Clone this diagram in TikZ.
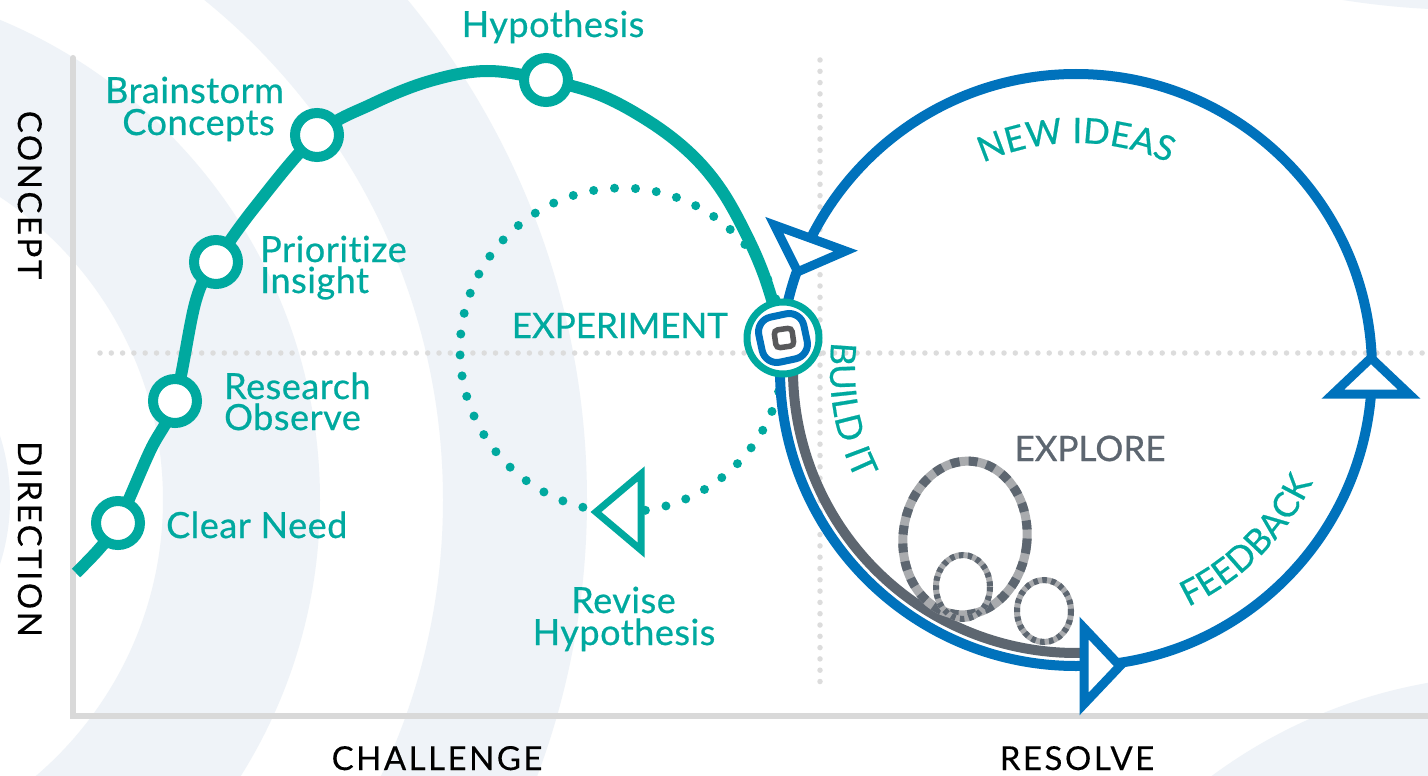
\documentclass[tikz,border=0pt]{standalone}
\usepackage{fontspec}
\setmainfont{Lato}
\newfontfamily\lblfam{Lato}[FakeBold=0.6, LetterSpace=1.5, Ligatures=NoCommon]
\newfontfamily\capfam{Lato}[FakeBold=0.6]
\newfontfamily\axfam{Lato}[FakeBold=0.3, LetterSpace=7.5]
\usetikzlibrary{decorations.text,calc}
\definecolor{tealc}{HTML}{00A99F}
\definecolor{bluec}{HTML}{0072BC}
\definecolor{gdark}{HTML}{5D6670}
\definecolor{glight}{HTML}{A9ABAE}
\definecolor{bandc}{HTML}{EFF3F8}
\definecolor{axisc}{HTML}{D9D9D9}
\definecolor{dotc}{HTML}{DCDCDC}
\definecolor{sqc}{HTML}{58595B}
\newcommand{\lblfont}{\lblfam\fontsize{36}{32}\selectfont}
\newcommand{\capfont}{\capfam\fontsize{35}{32}\selectfont}
\newcommand{\axfont}{\axfam\fontsize{33}{31}\selectfont}
\begin{document}
\begin{tikzpicture}[x=1pt,y=-1pt,
  stepnode/.style={circle, draw=tealc, line width=10pt, fill=white, minimum size=44pt, inner sep=0pt},
  lbl/.style={text=tealc, font=\lblfont, inner sep=0pt},
  caplbl/.style={text=tealc, font=\capfont, inner sep=0pt},
  axl/.style={text=black, font=\axfont, inner sep=0pt},
  bluetri/.style={draw=bluec, line width=9pt, fill=white, line join=miter},
  tealtri/.style={draw=tealc, line width=7pt, fill=white, line join=miter},
  griddots/.style={dotc, line width=5.5pt, line cap=round, dash pattern=on 0pt off 11.3pt},
  loopbase/.style={glight},
  loopdash/.style={gdark}
]
\useasboundingbox (0,0) rectangle (1428,776);
% background
\fill[white] (0,0) rectangle (1428,776);
\begin{scope}
\clip (0,0) rectangle (1428,776);
\fill[bandc, even odd rule] (-200,500) circle[radius=787] (-200,500) circle[radius=643];
\fill[bandc, even odd rule] (-200,500) circle[radius=520] (-200,500) circle[radius=363];
\fill[bandc] (-200,500) circle[radius=210];
\fill[bandc] (1518,1190) circle[radius=515];
\fill[bandc] (1470,-796) circle[radius=806];
\end{scope}
% grid
\draw[griddots] (100,353) -- (1428,353);
\draw[griddots] (820,60) -- (820,692);
% axes
\draw[axisc, line width=6pt, line join=miter] (73,58) -- (73,716) -- (1430,716);
\fill[axisc] (73,58) circle[radius=3];
% key points
\coordinate (pcn) at (118,523);
\coordinate (pro) at (175,401);
\coordinate (ppi) at (216,262);
\coordinate (pbc) at (317,135);
\coordinate (phy) at (546,80);
\coordinate (pex) at (783,338);
\coordinate (bc) at (1076,370);
% dotted experiment loop
\draw[tealc, line width=9pt, line cap=round, dash pattern=on 0pt off 21pt] (622,350) circle[radius=162];
% teal main curve
\draw[tealc, line width=12pt] plot[smooth, tension=0.6] coordinates {(76,573) (100,548) (pcn) (150,451) (pro) (196,300) (ppi) (255,207) (pbc) (372,104) (430,81) (487,71) (phy) (600,95) (650,122) (690,153) (720,188) (745,232) (765,278) (pex)};
% blue loop
\draw[bluec, line width=10pt] (bc) circle[radius=296];
% build-it grey line
\draw[gdark, line width=10pt] (bc) ++(186:283) arc[start angle=186, end angle=88.6, radius=283];
% explore loops
\draw[loopbase, line width=9pt, rotate around={-6:(965,538)}] (965,538) ellipse[x radius=62, y radius=77];
\draw[loopdash, line width=9pt, dash pattern=on 9pt off 9pt, rotate around={-6:(965,538)}] (965,538) ellipse[x radius=62, y radius=77];
\draw[loopbase, line width=6pt] (963,587) ellipse[x radius=27, y radius=32];
\draw[loopdash, line width=6pt, dash pattern=on 4.5pt off 4.5pt] (963,587) ellipse[x radius=27, y radius=32];
\draw[loopbase, line width=6pt] (1044,611) ellipse[x radius=27, y radius=31];
\draw[loopdash, line width=6pt, dash pattern=on 4.5pt off 4.5pt] (1044,611) ellipse[x radius=27, y radius=31];
% arrow triangles
\draw[bluetri] (774.3,225.0) -- (845.7,251.0) -- (797.7,271.8) -- cycle;
\draw[bluetri] (1333,394) -- (1409,394) -- (1371,358) -- cycle;
\draw[bluetri] (1084,628) -- (1084,704) -- (1120,666) -- cycle;
\draw[tealtri] (641,474) -- (641,550) -- (596,512) -- cycle;
% step nodes
\node[stepnode] (cn) at (pcn) {};
\node[stepnode] (ro) at (pro) {};
\node[stepnode] (pi) at (ppi) {};
\node[stepnode] (bcn) at (pbc) {};
\node[stepnode] (hy) at (phy) {};
\node[circle, draw=tealc, line width=7pt, fill=white, minimum size=72pt, inner sep=0pt] (ex) at (pex) {};
\node[rectangle, rounded corners=15pt, minimum size=46pt, inner sep=0pt, draw=bluec, line width=7pt, rotate=12] (exb) at (pex) {};
\node[rectangle, rounded corners=4pt, minimum size=18pt, inner sep=0pt, draw=sqc, line width=5.5pt, rotate=8] (exg) at (784,338) {};
% labels
\node[lbl, anchor=base] (tHy) at (553,37) {Hypothesis};
\node[lbl, anchor=base] (tBC1) at (194.5,103) {Brainstorm};
\node[lbl, anchor=base] (tBC2) at (198.5,135) {Concepts};
\node[lbl, anchor=base west] (tPI1) at (260,262) {Prioritize};
\node[lbl, anchor=base west] (tPI2) at (260,293) {Insight};
\node[lbl, anchor=base west] (tRO1) at (224,399) {Research};
\node[lbl, anchor=base west] (tRO2) at (224,430) {Observe};
\node[lbl, anchor=base west] (tCN) at (166,538) {Clear Need};
\node[caplbl, anchor=base east] (tEX) at (728,338) {EXPERIMENT};
\node[lbl, anchor=base] (tRH1) at (623.5,613) {Revise};
\node[lbl, anchor=base] (tRH2) at (624,645) {Hypothesis};
\node[caplbl, anchor=base, text=gdark] (tEP) at (1090,461) {EXPLORE};
\node[axl, anchor=base] (tCH) at (437,770) {CHALLENGE};
\node[axl, anchor=base] (tRS) at (1077,770) {RESOLVE};
\node[axl, anchor=base, rotate=-90] (tCO) at (18,195) {CONCEPT};
\node[axl, anchor=base, rotate=-90] (tDI) at (18,539) {DIRECTION};
% curved labels
\path[decorate, decoration={text along path, text align=center, text color=tealc,
  text={|\capfont|NEW IDEAS}}] (bc) ++(235:227) arc[start angle=235, end angle=305, radius=227];
\path[decorate, decoration={text along path, text align=center, text color=tealc,
  text={|\capfont|BUILD IT}}] (bc) ++(200:246) arc[start angle=200, end angle=140, radius=246];
\path[decorate, decoration={text along path, text align=center, text color=tealc,
  text={|\capfont|FEEDBACK}}] (bc) ++(75:262) arc[start angle=75, end angle=15, radius=262];
\end{tikzpicture}
\end{document}
